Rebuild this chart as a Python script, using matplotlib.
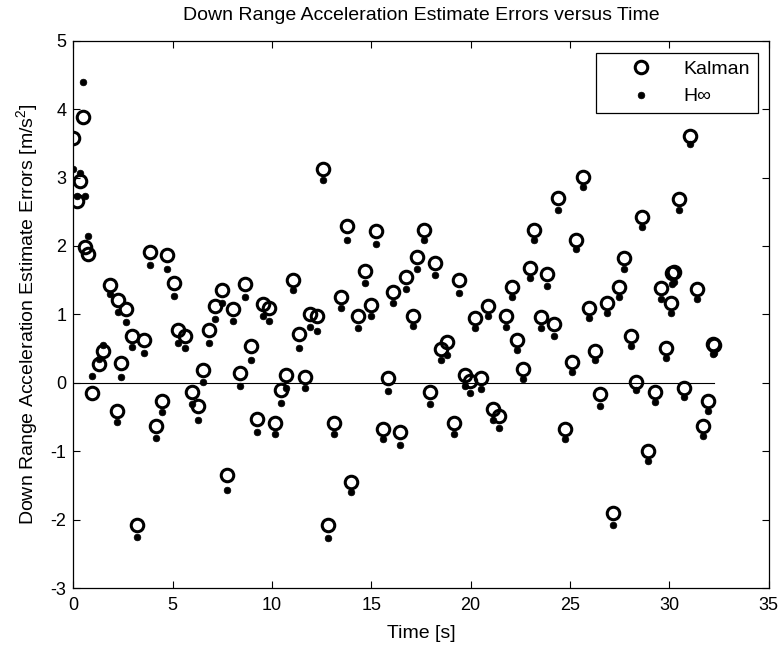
import numpy as np
import matplotlib
matplotlib.use("Agg")
import matplotlib.pyplot as plt

plt.rcParams['font.family'] = ['Liberation Sans', 'DejaVu Sans']
plt.rcParams['mathtext.fontset'] = 'custom'
plt.rcParams['mathtext.rm'] = 'Liberation Sans'
plt.rcParams['axes.unicode_minus'] = False

# time stamps [s]
time = [0.0, 0.17, 0.33, 0.5, 0.6, 0.75, 0.95, 1.28, 1.48, 1.85,
        2.18, 2.27, 2.39, 2.65, 2.97, 3.22, 3.56, 3.86, 4.16, 4.45,
        4.73, 5.08, 5.28, 5.62, 5.98, 6.26, 6.52, 6.85, 7.14, 7.50,
        7.72, 8.04, 8.39, 8.64, 8.94, 9.23, 9.56, 9.85, 10.15, 10.45,
        10.70, 11.04, 11.37, 11.67, 11.91, 12.25, 12.58, 12.80, 13.12, 13.46,
        13.79, 14.0, 14.34, 14.68, 14.98, 15.24, 15.57, 15.85, 16.10, 16.44,
        16.74, 17.08, 17.31, 17.65, 17.95, 18.20, 18.50, 18.80, 19.17, 19.43,
        19.71, 19.99, 20.22, 20.54, 20.89, 21.11, 21.44, 21.76, 22.07, 22.31,
        22.65, 22.98, 23.20, 23.54, 23.86, 24.19, 24.41, 24.75, 25.09, 25.30,
        25.63, 25.95, 26.26, 26.51, 26.84, 27.15, 27.48, 27.72, 28.05, 28.32,
        28.61, 28.94, 29.27, 29.59, 29.82, 30.08, 30.12, 30.22, 30.48, 30.76,
        31.04, 31.38, 31.68, 31.93, 32.2, 32.27]

# Kalman filter acceleration error
kalman = [3.58, 2.65, 2.95, 3.89, 1.99, 1.88, -0.15, 0.27, 0.46, 1.43,
          -0.41, 1.21, 0.29, 1.08, 0.69, -2.07, 0.63, 1.91, -0.63, -0.26,
          1.87, 1.46, 0.77, 0.68, -0.14, -0.33, 0.19, 0.77, 1.12, 1.36,
          -1.35, 1.08, 0.14, 1.45, 0.54, -0.52, 1.15, 1.10, -0.58, -0.10,
          0.11, 1.50, 0.72, 0.09, 1.01, 0.97, 3.13, -2.07, -0.58, 1.26,
          2.29, -1.44, 0.98, 1.64, 1.14, 2.22, -0.67, 0.07, 1.33, -0.72,
          1.55, 0.98, 1.84, 2.23, -0.13, 1.75, 0.50, 0.60, -0.58, 1.50,
          0.12, 0.03, 0.95, 0.07, 1.13, -0.38, -0.48, 0.98, 1.40, 0.63,
          0.21, 1.68, 2.24, 0.96, 1.59, 0.86, 2.70, -0.67, 0.30, 2.09,
          3.01, 1.09, 0.46, -0.16, 1.16, -1.90, 1.40, 1.82, 0.68, 0.02,
          2.43, -1.00, -0.13, 1.38, 0.51, 1.17, 1.60, 1.62, 2.68, -0.07,
          3.60, 1.37, -0.63, -0.27, 0.57, 0.55]

# H-infinity filter acceleration error
hinf = [3.13, 2.73, 3.07, 4.39, 2.73, 2.15, 0.10, 0.35, 0.56, 1.30,
        -0.57, 1.03, 0.09, 0.89, 0.52, -2.25, 0.44, 1.72, -0.80, -0.43,
        1.67, 1.27, 0.58, 0.51, -0.31, -0.54, 0.02, 0.58, 0.93, 1.16,
        -1.57, 0.91, -0.05, 1.25, 0.34, -0.72, 0.97, 0.90, -0.75, -0.29,
        -0.08, 1.35, 0.51, -0.08, 0.81, 0.76, 2.96, -2.27, -0.75, 1.09,
        2.09, -1.60, 0.80, 1.46, 0.97, 2.03, -0.82, -0.12, 1.16, -0.90,
        1.37, 0.83, 1.67, 2.09, -0.31, 1.58, 0.34, 0.41, -0.75, 1.32,
        -0.05, -0.15, 0.80, -0.09, 0.97, -0.54, -0.66, 0.82, 1.25, 0.48,
        0.05, 1.53, 2.08, 0.80, 1.42, 0.69, 2.53, -0.82, 0.16, 1.95,
        2.86, 0.95, 0.33, -0.33, 1.02, -2.08, 1.26, 1.67, 0.54, -0.11,
        2.28, -1.14, -0.28, 1.23, 0.37, 1.02, 1.45, 1.48, 2.53, -0.21,
        3.49, 1.22, -0.77, -0.41, 0.42, 0.44]

fig = plt.figure(figsize=(7.82, 6.49), dpi=100)
ax = fig.add_axes([0.0937, 0.0935, 0.8893, 0.844])

ax.plot(time, kalman, 'o', ms=9, mfc='none', mec='k', mew=2.2, label='Kalman')
ax.plot(time, hinf, 'o', ms=4.8, mfc='k', mec='k', mew=0.5, label='H∞')
ax.plot([time[0], time[-1]], [0, 0], 'k-', lw=0.8)

ax.set_xlim(0, 35)
ax.set_ylim(-3, 5)
ax.set_xticks(np.arange(0, 36, 5))
ax.set_yticks(np.arange(-3, 6, 1))
ax.tick_params(direction='in', top=True, right=True, length=5, labelsize=13, width=0.8)
ax.tick_params(axis='x', pad=6)
ax.tick_params(axis='y', pad=5)
for s in ax.spines.values():
    s.set_linewidth(0.9)

ax.set_title('Down Range Acceleration Estimate Errors versus Time', fontsize=14, pad=15)
ax.set_xlabel('Time [s]', fontsize=14, labelpad=8)
ax.set_ylabel('Down Range Acceleration Estimate Errors [m/s$^2$]', fontsize=14, labelpad=7)

leg = ax.legend(loc='upper right', bbox_to_anchor=(0.984, 0.978), borderaxespad=0,
                fancybox=False, edgecolor='k', framealpha=1, fontsize=14,
                handlelength=3.8, handletextpad=0.3, borderpad=0.4, labelspacing=0.5)
leg.get_frame().set_linewidth(0.9)

fig.savefig('out.png', dpi=100)
